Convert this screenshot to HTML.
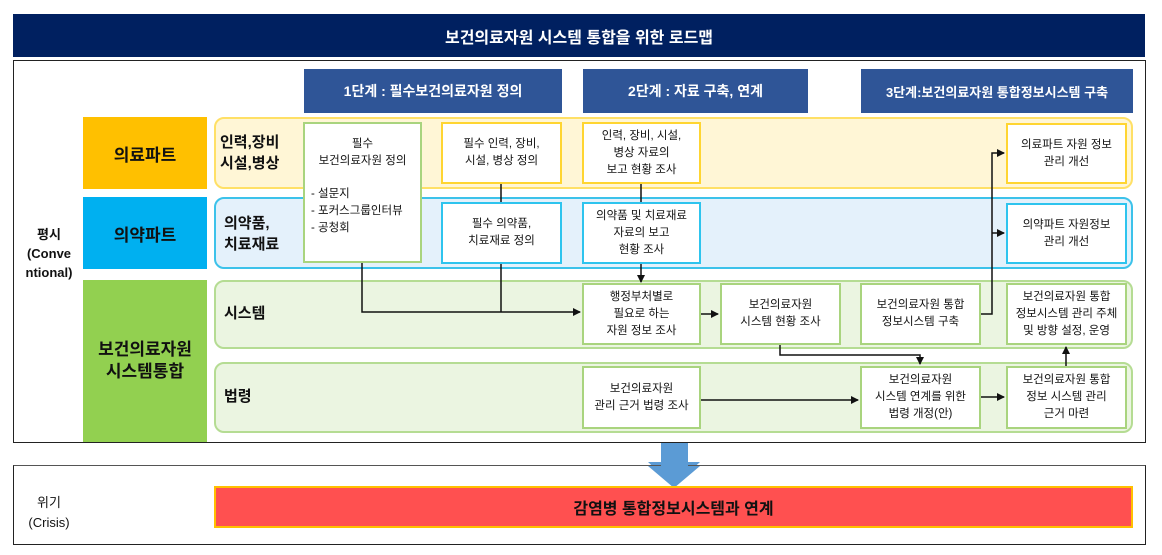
<!DOCTYPE html>
<html><head><meta charset="utf-8"><style>
*{margin:0;padding:0;box-sizing:border-box}
body{width:1162px;height:555px;background:#fff;position:relative;overflow:hidden;font-family:"Liberation Sans","Noto Sans CJK KR","NanumGothic",sans-serif;color:#111}
.a{position:absolute}
.c{display:flex;align-items:center;justify-content:center;text-align:center}
.ph{background:#2f5597;color:#fff;font-weight:bold;font-size:14px;top:69px;height:44px}
.lane{border-radius:10px;border:2px solid}
.box{background:#fff;border:2px solid;font-size:11.5px;line-height:17px}
.y{border-color:#ffd531}.b{border-color:#2ec4ee}.g{border-color:#a9d47e}
.ll{font-size:15px;font-weight:bold;line-height:21px}
.lab{font-size:17px;font-weight:bold}
</style></head><body>
<div class="a c" style="left:13px;top:14px;width:1132px;height:43px;background:#002060;color:#fff;font-weight:bold;font-size:16px">보건의료자원 시스템 통합을 위한 로드맵</div>
<div class="a" style="left:13px;top:60px;width:1133px;height:383px;border:1.5px solid #222"></div>
<div class="a ph c" style="left:304px;width:258px">1단계 : 필수보건의료자원 정의</div>
<div class="a ph c" style="left:583px;width:225px">2단계 : 자료 구축, 연계</div>
<div class="a ph c" style="left:861px;width:272px;font-size:13px">3단계:보건의료자원 통합정보시스템 구축</div>

<div class="a c lab" style="left:83px;top:117px;width:124px;height:72px;background:#ffc000">의료파트</div>
<div class="a c lab" style="left:83px;top:197px;width:124px;height:72px;background:#00b0f0">의약파트</div>
<div class="a c lab" style="left:83px;top:280px;width:124px;height:162px;background:#92d050;line-height:22px">보건의료자원<br>시스템통합</div>

<div class="a lane" style="left:214px;top:117px;width:919px;height:72px;background:#fff6d6;border-color:#ffe066"></div>
<div class="a lane" style="left:214px;top:197px;width:919px;height:72px;background:#e4f1fb;border-color:#3cc2ea"></div>
<div class="a lane" style="left:214px;top:280px;width:919px;height:69px;background:#ebf5e1;border-color:#b5dc93"></div>
<div class="a lane" style="left:214px;top:362px;width:919px;height:71px;background:#ebf5e1;border-color:#b5dc93"></div>

<div class="a ll" style="left:220px;top:132px">인력,장비<br>시설,병상</div>
<div class="a ll" style="left:224px;top:213px">의약품,<br>치료재료</div>
<div class="a ll" style="left:224px;top:303px">시스템</div>
<div class="a ll" style="left:224px;top:386px">법령</div>

<div class="a c" style="left:18px;top:225px;width:62px;font-size:13px;font-weight:bold;line-height:19px">평시<br>(Conve<br>ntional)</div>

<svg class="a" style="left:0;top:0" width="1162" height="555">
<defs><marker id="m" markerWidth="8" markerHeight="8" refX="7" refY="4" orient="auto" markerUnits="userSpaceOnUse"><path d="M0,0L8,4L0,8z" fill="#111"/></marker></defs>
<g stroke="#111" stroke-width="1.5" fill="none">
<path d="M362,262V312H580" marker-end="url(#m)"/>
<path d="M501,183V202M501,263V312"/>
<path d="M641,183V202"/>
<path d="M641,263V282" marker-end="url(#m)"/>
<path d="M700,314H718" marker-end="url(#m)"/>
<path d="M780,345V355H920V364" marker-end="url(#m)"/>
<path d="M980,314H992V153H1004" marker-end="url(#m)"/>
<path d="M992,233H1004" marker-end="url(#m)"/>
<path d="M700,400H858" marker-end="url(#m)"/>
<path d="M980,397H1004" marker-end="url(#m)"/>
<path d="M1066,366V347" marker-end="url(#m)"/>
</g>
<path d="M661,443H688V462H700L674,486L648,462H661Z" fill="#5b9bd5"/>
</svg>

<div class="a box g" style="left:303px;top:122px;width:119px;height:141px;padding-top:12px;text-align:center">필수<br>보건의료자원 정의<div style="text-align:left;padding-left:6px;margin-top:16px">- 설문지<br>- 포커스그룹인터뷰<br>- 공청회</div></div>
<div class="a box y c" style="left:441px;top:122px;width:121px;height:62px">필수 인력, 장비,<br>시설, 병상 정의</div>
<div class="a box b c" style="left:441px;top:202px;width:121px;height:62px">필수 의약품,<br>치료재료 정의</div>
<div class="a box y c" style="left:582px;top:122px;width:119px;height:62px">인력, 장비, 시설,<br>병상 자료의<br>보고 현황 조사</div>
<div class="a box b c" style="left:582px;top:202px;width:119px;height:62px">의약품 및 치료재료<br>자료의 보고<br>현황 조사</div>
<div class="a box g c" style="left:582px;top:283px;width:119px;height:62px">행정부처별로<br>필요로 하는<br>자원 정보 조사</div>
<div class="a box g c" style="left:720px;top:283px;width:121px;height:62px">보건의료자원<br>시스템 현황 조사</div>
<div class="a box g c" style="left:860px;top:283px;width:121px;height:62px">보건의료자원 통합<br>정보시스템 구축</div>
<div class="a box g c" style="left:1006px;top:283px;width:121px;height:62px">보건의료자원 통합<br>정보시스템 관리 주체<br>및 방향 설정, 운영</div>
<div class="a box y c" style="left:1006px;top:123px;width:121px;height:61px">의료파트 자원 정보<br>관리 개선</div>
<div class="a box b c" style="left:1006px;top:203px;width:121px;height:61px">의약파트 자원정보<br>관리 개선</div>
<div class="a box g c" style="left:582px;top:366px;width:119px;height:63px">보건의료자원<br>관리 근거 법령 조사</div>
<div class="a box g c" style="left:860px;top:366px;width:121px;height:63px">보건의료자원<br>시스템 연계를 위한<br>법령 개정(안)</div>
<div class="a box g c" style="left:1006px;top:366px;width:121px;height:63px">보건의료자원 통합<br>정보 시스템 관리<br>근거 마련</div>

<div class="a" style="left:13px;top:465px;width:1133px;height:80px;border:1.5px solid #222;border-top-color:#555"></div>
<svg class="a" style="left:0;top:0" width="1162" height="555"><path d="M661,462H688V466H700L674,488L648,466H661Z" fill="#5b9bd5"/></svg>
<div class="a c" style="left:18px;top:493px;width:62px;font-size:13px;line-height:20px">위기<br>(Crisis)</div>
<div class="a c" style="left:214px;top:486px;width:919px;height:42px;background:#ff5050;border:2px solid #ffc000;font-size:16px;font-weight:bold">감염병 통합정보시스템과 연계</div>
</body></html>
